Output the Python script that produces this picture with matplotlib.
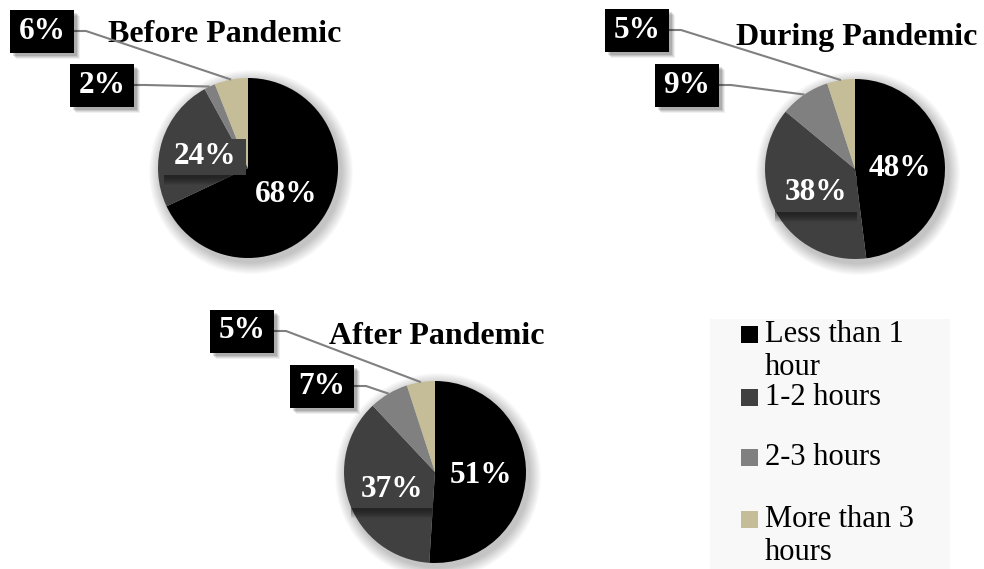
import textwrap
import numpy as np
import matplotlib.pyplot as plt
from matplotlib.patches import Rectangle, Circle

plt.rcParams['font.family'] = ['Liberation Serif', 'DejaVu Serif']

# Share of respondents per daily-usage band
categories = ["Less than 1 hour", "1-2 hours", "2-3 hours", "More than 3 hours"]
before = [68, 24, 2, 6]
during = [48, 38, 9, 5]
after = [51, 37, 7, 5]
titles = ["Before Pandemic", "During Pandemic", "After Pandemic"]
colors = ["#000000", "#404040", "#808080", "#c4bd97"]

W, H = 984, 569
fig = plt.figure(figsize=(W / 100, H / 100), dpi=100)
ax = fig.add_axes([0, 0, 1, 1])


def fy(y):
    # layout is given from the top edge, the axes count from the bottom
    return H - y


# pie centre, radius, title position, and the two callout boxes (small slices)
layout = [
    dict(values=before, c=(248, 168), r=90, title=(225, 34),
         boxes=[(102, 85), (42, 31)]),
    dict(values=during, c=(855, 169), r=90, title=(857, 37),
         boxes=[(687, 85), (637, 30)]),
    dict(values=after, c=(435, 472), r=91, title=(437, 336),
         boxes=[(322, 386), (242, 331)]),
]

box_w, box_h = 64, 43

for n, p in enumerate(layout):
    cx, cy = p['c'][0], fy(p['c'][1])
    r = p['r']
    # soft shadow behind the pie
    for k in range(12, 0, -1):
        ax.add_patch(Circle((cx + 3, cy - 4), r + k, color='black',
                            alpha=0.018, lw=0, zorder=0))
    wedges, _ = ax.pie(p['values'], colors=colors, startangle=90,
                       counterclock=False, center=(cx, cy), radius=r,
                       wedgeprops=dict(linewidth=0))
    for w in wedges:
        w.set_zorder(2)

    ax.text(p['title'][0], fy(p['title'][1]), titles[n],
            ha='center', va='center', fontsize=23, fontweight='bold', zorder=5)

    small = 0
    for i, (w, v) in enumerate(zip(wedges, p['values'])):
        mid = np.deg2rad((w.theta1 + w.theta2) / 2)
        if v >= 15:
            tx = cx + 0.5 * r * np.cos(mid)
            ty = cy + 0.5 * r * np.sin(mid) - 2
            ax.text(tx, ty, f"{v}%", ha='center', va='center', color='white',
                    fontsize=22.5, fontweight='bold', zorder=6)
            if i > 0:
                # label panel in the slice colour with a soft drop shadow
                for k in range(1, 11):
                    ax.add_patch(Rectangle((tx - 41, ty - 19 - k), 82, 8,
                                           color='black', alpha=0.06, lw=0,
                                           zorder=3))
                ax.add_patch(Rectangle((tx - 41, ty - 19), 82, 36, color=colors[i],
                                       lw=0, zorder=4))
        else:
            bx, by = p['boxes'][small]
            by = fy(by)
            small += 1
            for k, a in [(6, 0.06), (5, 0.08), (4, 0.1), (3, 0.12)]:
                ax.add_patch(Rectangle((bx - box_w / 2 + k, by - box_h / 2 - k),
                                       box_w, box_h, color='black', alpha=a,
                                       lw=0, zorder=6))
            ax.add_patch(Rectangle((bx - box_w / 2, by - box_h / 2), box_w, box_h,
                                   color='black', lw=0, zorder=7))
            ax.text(bx, by, f"{v}%", ha='center', va='center', color='white',
                    fontsize=22.5, fontweight='bold', zorder=8)
            ex = cx + r * np.cos(mid)
            ey = cy + r * np.sin(mid)
            x0 = bx + box_w / 2
            ax.plot([x0, x0 + 12, ex], [by, by, ey], color='#808080', lw=1.5,
                    zorder=5, solid_capstyle='butt')

# legend panel
ax.add_patch(Rectangle((710, 0), 240, fy(319), color='#f8f8f8', lw=0, zorder=0))
rows = [334, 397, 457, 519]
for col, label, yr in zip(colors, categories, rows):
    ax.add_patch(Rectangle((741, fy(yr) - 8.5), 17, 17, color=col, lw=0, zorder=2))
    for j, line in enumerate(textwrap.wrap(label, 11)):
        ax.text(765, fy(yr + 8 + 33 * j), line, ha='left', va='baseline',
                fontsize=22, zorder=2)

ax.set_xlim(0, W)
ax.set_ylim(0, H)
ax.set_aspect('equal')
ax.axis('off')

fig.savefig('out.png', dpi=100)
